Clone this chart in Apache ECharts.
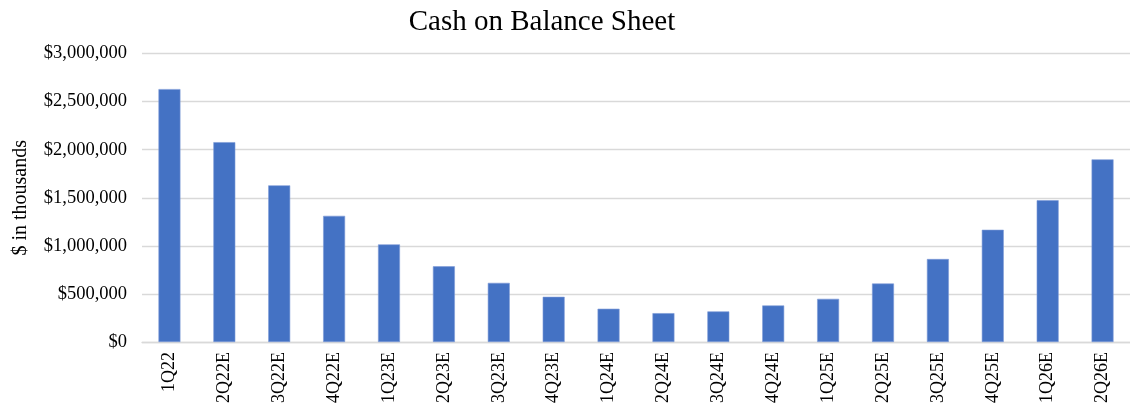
<!DOCTYPE html>
<html>
<head>
<meta charset="utf-8">
<script src="https://cdn.jsdelivr.net/npm/echarts@6/dist/echarts.min.js"></script>
<style>
html,body{margin:0;padding:0;background:#fff;}
#chart{width:1130px;height:406px;}
</style>
</head>
<body>
<div id="chart"></div>
<script>
const categories = ["1Q22","2Q22E","3Q22E","4Q22E","1Q23E","2Q23E","3Q23E","4Q23E","1Q24E","2Q24E","3Q24E","4Q24E","1Q25E","2Q25E","3Q25E","4Q25E","1Q26E","2Q26E"];
const cashValues = [2630000,2078000,1629000,1312000,1015000,787000,615000,470000,346000,300000,318000,380000,449000,608000,863000,1167000,1474000,1899000];
const chartTitle = "Cash on Balance Sheet";
const yAxisName = "$ in thousands";

const fmt = v => "$" + Math.round(v).toString().replace(/\B(?=(\d{3})+(?!\d))/g, ",");
const serif = "'Liberation Serif', 'Times New Roman', serif";

const chart = echarts.init(document.getElementById('chart'), null, {renderer: 'canvas'});
chart.setOption({
  animation: false,
  backgroundColor: '#ffffff',
  title: {
    text: chartTitle,
    left: 537,
    textAlign: 'center',
    top: 3,
    textStyle: {fontFamily: serif, fontSize: 29, fontWeight: 'normal', color: '#000'}
  },
  grid: {left: 142, right: -12, top: 53.5, bottom: 63.3, containLabel: false},
  xAxis: {
    type: 'category',
    data: categories,
    axisLine: {show: true, lineStyle: {color: '#d9d9d9', width: 1.3}},
    axisTick: {show: false},
    axisLabel: {rotate: 90, margin: 10, fontFamily: serif, fontSize: 18, color: '#000', interval: 0}
  },
  yAxis: {
    type: 'value',
    min: 0, max: 3000000, interval: 500000,
    name: yAxisName,
    nameLocation: 'middle',
    nameRotate: 90,
    nameGap: 111,
    nameTextStyle: {fontFamily: serif, fontSize: 20, color: '#000'},
    axisLine: {show: false},
    axisTick: {show: false},
    splitLine: {lineStyle: {color: '#d9d9d9', width: 1.3}},
    axisLabel: {formatter: fmt, fontFamily: serif, fontSize: 18.5, color: '#000', margin: 15}
  },
  series: [{
    type: 'bar',
    data: cashValues,
    barWidth: '40%',
    itemStyle: {color: '#4472C4', borderColor: '#7d9ad6', borderWidth: 0.6}
  }]
});
</script>
</body>
</html>
